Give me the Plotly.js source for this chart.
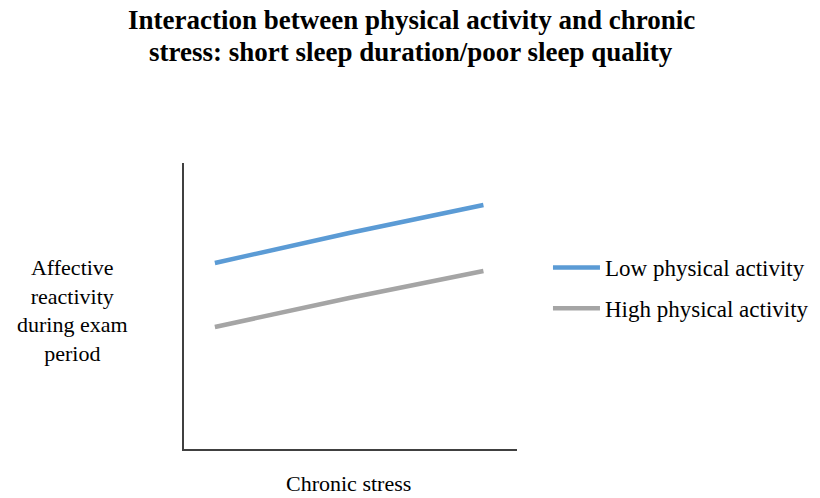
<!DOCTYPE html>
<html>
<head>
<meta charset="utf-8">
<script src="https://cdn.plot.ly/plotly-3.0.1.min.js"></script>
<style>html,body{margin:0;padding:0;background:#fff;}#chart{width:820px;height:498px;}</style>
</head>
<body>
<div id="chart"></div>
<script>
const stressLevels = [1, 2, 3];
const lowActivity = [1.86, 2.16, 2.44];
const highActivity = [1.22, 1.51, 1.78];
const seriesNames = ["Low physical activity", "High physical activity"];
const titleLines = ["Interaction between physical activity and chronic", "stress: short sleep duration/poor sleep quality"];
const yTitle = "Affective<br>reactivity<br>during exam<br>period";
const xTitle = "Chronic stress";

const serif = "Liberation Serif, Times New Roman, serif";

const traces = [
  {x: stressLevels, y: lowActivity, name: seriesNames[0], mode: "lines", legendgroup: "a",
   line: {color: "#5b9bd5", width: 4.5}},
  {x: stressLevels, y: highActivity, name: seriesNames[1], mode: "lines", legendgroup: "b",
   line: {color: "#a5a5a5", width: 4.5}}
];

const layout = {
  width: 820, height: 498,
  margin: {l: 184, r: 303, t: 163, b: 49, autoexpand: false},
  paper_bgcolor: "#fff", plot_bgcolor: "#fff",
  font: {family: serif, color: "#000"},
  xaxis: {range: [0.77, 3.25], showgrid: false, zeroline: false, showticklabels: false, ticks: "",
          showline: true, linecolor: "#404040", linewidth: 2},
  yaxis: {range: [0, 2.86], showgrid: false, zeroline: false, showticklabels: false, ticks: "",
          showline: true, linecolor: "#404040", linewidth: 2},
  showlegend: true,
  legend: {x: 1.093, xanchor: "left", y: 0.563, yanchor: "middle", traceorder: "grouped",
           tracegroupgap: 8, font: {family: serif, size: 23, color: "#000"}, itemwidth: 47},
  annotations: [
    {text: "<b>" + titleLines[0] + "</b>", xref: "paper", yref: "paper", x: 0.682, y: 1.0 + (163 - 20) / 286,
     xanchor: "center", yanchor: "middle", showarrow: false,
     font: {family: serif, size: 27, color: "#000"}},
    {text: "<b>" + titleLines[1] + "</b>", xref: "paper", yref: "paper", x: 0.682, y: 1.0 + (163 - 52) / 286,
     xanchor: "center", yanchor: "middle", showarrow: false,
     font: {family: serif, size: 27, color: "#000"}},
    {text: yTitle, xref: "paper", yref: "paper",
     x: -0.336, y: 0.486, xanchor: "center", yanchor: "middle", showarrow: false, align: "center",
     font: {family: serif, size: 22, color: "#000"}},
    {text: xTitle, xref: "paper", yref: "paper", x: 0.495, y: -0.122,
     xanchor: "center", yanchor: "middle", showarrow: false,
     font: {family: serif, size: 22, color: "#000"}}
  ]
};

Plotly.newPlot("chart", traces, layout, {displayModeBar: false, staticPlot: true});
</script>
</body>
</html>
